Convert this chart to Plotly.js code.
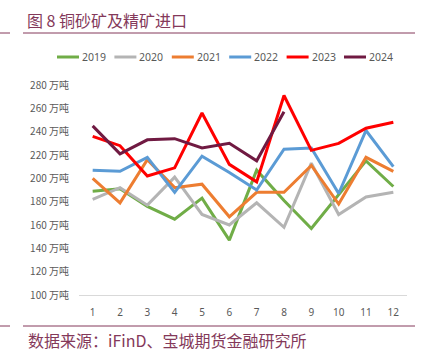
<!DOCTYPE html>
<html>
<head>
<meta charset="utf-8">
<script src="https://cdn.plot.ly/plotly-3.0.1.min.js"></script>
<style>html,body{margin:0;padding:0;background:#fff;}#chart{width:424px;height:354px;}</style>
</head>
<body>
<div id="chart"></div>
<script>
var months = ['1','2','3','4','5','6','7','8','9','10','11','12'];
var s2019 = [189, 191, 176, 165, 183, 147, 207, 181, 157, 186, 215, 193];
var s2020 = [182, 192, 177, 201, 169, 160, 179, 158, 213, 169, 184, 188];
var s2021 = [200, 179, 216, 192, 195, 167, 188, 188, 211, 178, 218, 206];
var s2022 = [207, 206, 218, 188, 219, 205, 190, 225, 226, 187, 241, 210];
var s2023 = [236, 228, 202, 209, 256, 212, 197, 271, 224, 230, 243, 248];
var s2024 = [245, 221, 233, 234, 226, 230, 215, 257];
var seriesNames = ['2019', '2020', '2021', '2022', '2023', '2024'];
var yTickVals = [100, 120, 140, 160, 180, 200, 220, 240, 260, 280];
var yTickText = ['100 万吨', '120 万吨', '140 万吨', '160 万吨', '180 万吨', '200 万吨', '220 万吨', '240 万吨', '260 万吨', '280 万吨'];
var titleText = '图 8 铜砂矿及精矿进口';
var sourceText = '数据来源：iFinD、宝城期货金融研究所';

var colors = ['#70AD47', '#B4B4B4', '#ED7D31', '#5B9BD5', '#FF0000', '#701A42'];
var allSeries = [s2019, s2020, s2021, s2022, s2023, s2024];

var traces = allSeries.map(function (ys, i) {
  return {
    type: 'scatter',
    mode: 'lines',
    name: seriesNames[i],
    x: months.slice(0, ys.length),
    y: ys,
    line: {color: colors[i], width: 3},
    showlegend: false,
    hoverinfo: 'x+y+name'
  };
});

var W = 424, H = 354, L = 79, R = 17, T = 85, B = 59;
var pw = W - L - R, ph = H - T - B;
function px(x) { return (x - L) / pw; }
function py(y) { return (H - B - y) / ph; }
var maroon = '#84395A';

var shapes = [
  {type: 'line', xref: 'paper', yref: 'paper', x0: px(23), x1: px(415), y0: py(33), y1: py(33), line: {color: maroon, width: 1}},
  {type: 'line', xref: 'paper', yref: 'paper', x0: px(0), x1: px(10), y0: py(33), y1: py(33), line: {color: maroon, width: 1}},
  {type: 'line', xref: 'paper', yref: 'paper', x0: px(23), x1: px(415), y0: py(326), y1: py(326), line: {color: maroon, width: 1}},
  {type: 'line', xref: 'paper', yref: 'paper', x0: px(0), x1: px(10), y0: py(326), y1: py(326), line: {color: maroon, width: 1}}
];
var annotations = [
  {text: sourceText, xref: 'paper', yref: 'paper', x: px(26), y: py(340), xanchor: 'left', yanchor: 'middle', showarrow: false,
   font: {family: '"Noto Sans CJK SC", sans-serif', size: 16, color: maroon}}
];

// manual legend (one row, like the reference)
var legStart = 57, legPitch = 57.4, legY = 57;
seriesNames.forEach(function (name, i) {
  var x0 = legStart + i * legPitch;
  shapes.push({type: 'line', xref: 'paper', yref: 'paper', x0: px(x0), x1: px(x0 + 22), y0: py(legY), y1: py(legY),
               line: {color: colors[i], width: 3}});
  annotations.push({text: name, xref: 'paper', yref: 'paper', x: px(x0 + 23), y: py(legY), xanchor: 'left', yanchor: 'middle',
                    showarrow: false, font: {family: '"Noto Sans", sans-serif', size: 10.5, color: '#595959'}});
});

var layout = {
  width: W, height: H,
  margin: {l: L, r: R, t: T, b: B, pad: 0},
  paper_bgcolor: '#ffffff',
  plot_bgcolor: '#ffffff',
  font: {family: '"Noto Sans CJK SC", "Noto Sans", sans-serif', color: '#595959', size: 10},
  title: {
    text: titleText,
    xref: 'container', yref: 'container',
    x: 27 / W, xanchor: 'left',
    y: 1 - 21 / H, yanchor: 'middle',
    font: {family: '"Noto Sans CJK SC", sans-serif', size: 16, color: maroon}
  },
  showlegend: false,
  xaxis: {
    type: 'category',
    range: [-0.5, 11.5],
    showgrid: false,
    zeroline: false,
    showline: true,
    linecolor: '#D9D9D9',
    linewidth: 1,
    ticks: '',
    ticklabelstandoff: 8,
    tickfont: {size: 10, color: '#595959', family: '"Noto Sans", sans-serif'},
    fixedrange: true
  },
  yaxis: {
    range: [100, 280],
    tickvals: yTickVals,
    ticktext: yTickText,
    showgrid: false,
    zeroline: false,
    showline: false,
    ticks: '',
    ticklabelstandoff: 9,
    tickfont: {size: 10, color: '#595959', family: '"Noto Sans CJK SC", sans-serif'},
    fixedrange: true
  },
  shapes: shapes,
  annotations: annotations
};

Plotly.newPlot('chart', traces, layout, {displayModeBar: false, staticPlot: true});
</script>
</body>
</html>
